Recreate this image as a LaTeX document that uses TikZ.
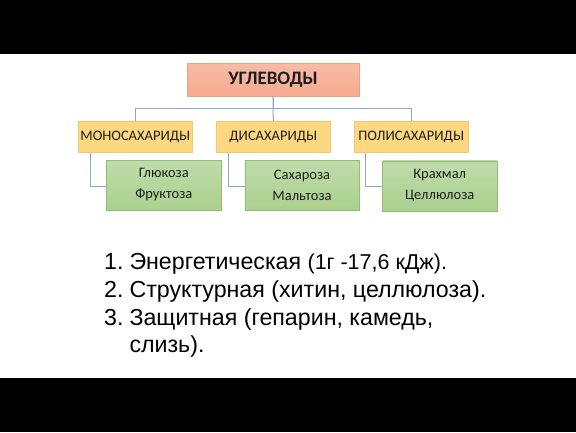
\documentclass[tikz,border=0pt]{standalone}
\usepackage{fontspec}
\setmainfont{Liberation Sans}
\newfontfamily\boxfont{Carlito}

\definecolor{topfill}{RGB}{246,170,144}
\definecolor{topline}{RGB}{238,160,130}
\definecolor{midfill}{RGB}{254,216,128}
\definecolor{midline}{RGB}{246,200,110}
\definecolor{lowfill}{RGB}{170,208,142}
\definecolor{lowline}{RGB}{145,190,118}
\definecolor{linkcol}{RGB}{140,166,196}
\definecolor{ink}{RGB}{30,30,30}

\begin{document}
\begin{tikzpicture}[x = 1pt, y = -1pt,
	topbox/.style = {draw = topline, top color = topfill!80!white, bottom color = topfill, minimum width = 172pt, minimum height = 33pt, inner sep = 0pt, text = ink, font = \boxfont\bfseries\fontsize{19}{22}\selectfont},
	midbox/.style = {draw = midline, fill = midfill, minimum width = 114.5pt, minimum height = 31pt, inner sep = 0pt, text = ink, font = \boxfont\fontsize{14.5}{17}\selectfont},
	lowbox/.style = {draw = lowline, top color = lowfill!75!white, bottom color = lowfill, minimum width = 114.3pt, minimum height = 50pt, inner sep = 0pt, align = center, text = ink, font = \boxfont\fontsize{14.5}{21}\selectfont},
	link/.style = {draw = linkcol, line width = 1pt},
	listtext/.style = {anchor = base west, inner sep = 0pt, font = \fontsize{23.2}{27}\selectfont}]

	% Frame: black bars with white slide

	\fill [black] (0, 0) rectangle (576, 432);
	\fill [white] (0, 54) rectangle (576, 378);

	% Boxes

	\node [topbox] (carb) at (273, 79.7) {УГЛЕВОДЫ};

	\node [midbox] (mono) at (135.3, 136.8) {МОНОСАХАРИДЫ};
	\node [midbox] (di) at (273.3, 136.8) {ДИСАХАРИДЫ};
	\node [midbox] (poly) at (411.2, 136.8) {ПОЛИСАХАРИДЫ};

	\node [lowbox] (monoex) at (163.8, 185) {Глюкоза\\Фруктоза};
	\node [lowbox] (diex) at (302, 185.5) {Сахароза\\Мальтоза};
	\node [lowbox] (polyex) at (439.7, 185.7) {Крахмал\\Целлюлоза};

	% Tree links

	\draw [link] (carb.south) -- (di.north);
	\draw [link] (carb.south) -- ++(0, 12.2) -| (mono.north);
	\draw [link] (carb.south) -- ++(0, 12.2) -| (poly.north);

	\draw [link] (mono.south west) ++(12.7, 0) |- ([yshift = -1pt] monoex.west);
	\draw [link] (di.south west) ++(12.3, 0) |- ([yshift = -1pt] diex.west);
	\draw [link] (poly.south west) ++(12, 0) |- ([yshift = -1pt] polyex.west);

	% Functions list

	\node [listtext] (num1) at (104, 269.5) {1.};
	\node [listtext] (item1) at (129.3, 269.5) {Энергетическая {\fontsize{21.5}{25}\selectfont(1г -17,6 кДж).}};
	\node [listtext] (num2) at (104, 297.3) {2.};
	\node [listtext] (item2) at (129.3, 297.3) {Структурная (хитин, целлюлоза).};
	\node [listtext] (num3) at (104, 325) {3.};
	\node [listtext] (item3) at (129.3, 325) {Защитная (гепарин, камедь,};
	\node [listtext] (item3b) at (129.3, 352.7) {слизь).};

\end{tikzpicture}
\end{document}
